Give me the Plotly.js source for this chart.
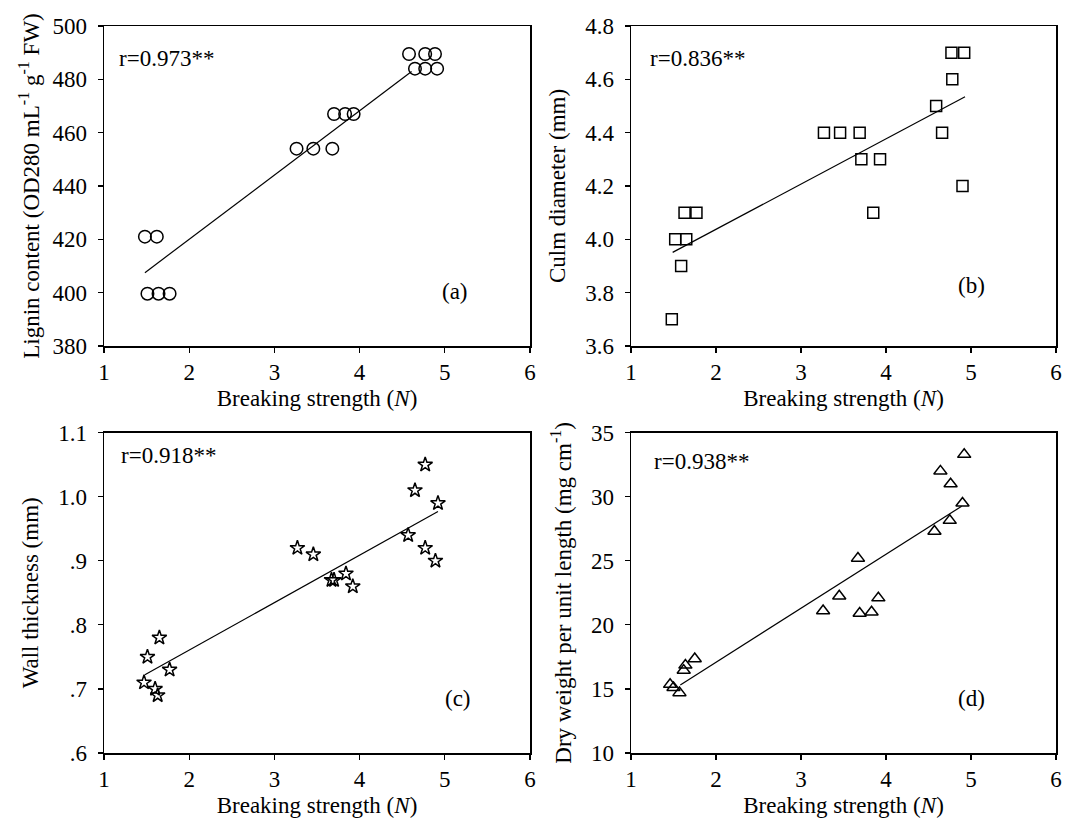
<!DOCTYPE html>
<html>
<head>
<meta charset="utf-8">
<script src="https://cdn.plot.ly/plotly-3.0.1.min.js"></script>
<style>html,body{margin:0;padding:0;background:#fff;}#chart{width:1065px;height:819px;}</style>
</head>
<body>
<div id="chart"></div>
<script>
// Panel (a): lignin content vs breaking strength
const strengthA = [4.58,4.77,4.885,4.65,4.77,4.91, 3.70,3.83,3.93, 3.26,3.457,3.68, 1.48,1.62, 1.51,1.64,1.77];
const lignin    = [489.5,489.5,489.5,484,484,484, 467,467,467, 454,454,454, 421,421, 399.6,399.6,399.6];
const fitAX = [1.48, 4.61];
const fitAY = [407.5, 482.9];

// Panel (b): culm diameter
const strengthB = [4.77,4.92,4.78,4.59,4.66,4.90, 3.27,3.46,3.69,3.71,3.93,3.85, 1.63,1.77,1.52,1.65,1.59,1.48];
const culmDiam  = [4.7,4.7,4.6,4.5,4.4,4.2, 4.4,4.4,4.4,4.3,4.3,4.1, 4.1,4.1,4.0,4.0,3.9,3.7];
const fitBX = [1.49, 4.93];
const fitBY = [3.951, 4.535];

// Panel (c): wall thickness
const strengthC = [4.77,4.65,4.92,4.57,4.77,4.89, 3.27,3.457,3.67,3.70,3.84,3.92, 1.65,1.51,1.77,1.47,1.60,1.63];
const wallThick = [1.05,1.01,0.99,0.94,0.92,0.90, 0.92,0.91,0.87,0.87,0.88,0.86, 0.78,0.75,0.73,0.71,0.70,0.69];
const fitCX = [1.48, 4.92];
const fitCY = [0.722, 0.977];

// Panel (d): dry weight per unit length
const strengthD = [4.92,4.64,4.76,4.90,4.75,4.57, 3.67,3.45,3.26,3.69,3.83,3.91, 1.75,1.64,1.62,1.46,1.50,1.57];
const dryWeight = [33.3,32.0,31.0,29.5,28.15,27.3, 25.2,22.25,21.1,20.9,21.0,22.1, 17.35,16.85,16.45,15.35,15.1,14.7];
const fitDX = [1.58, 4.89];
const fitDY = [15.31, 29.26];

const xTicks = [1,2,3,4,5,6];
const cTickVals = [0.6,0.7,0.8,0.9,1.0,1.1];
const cTickText = ['.6','.7','.8','.9','1.0','1.1'];
const rLabels = ['r=0.973**','r=0.836**','r=0.918**','r=0.938**'];
const panelLabels = ['(a)','(b)','(c)','(d)'];
const yTitles = [
  'Lignin content (OD280 mL<sup>-1</sup> g<sup>-1</sup> FW)',
  'Culm diameter (mm)',
  'Wall thickness (mm)',
  'Dry weight per unit length (mg cm<sup>-1</sup>)'
];
const xTitle = 'Breaking strength (<i>N</i>)';

const FONT = 'Liberation Serif, Times New Roman, serif';
const FS = 23;

function pts(x, y, sym, size, ax) {
  return {x: x, y: y, type: 'scatter', mode: 'markers', xaxis: 'x' + ax, yaxis: 'y' + ax,
    marker: {symbol: sym, size: size, color: '#000', line: {color: '#000', width: 1.5}},
    showlegend: false, hoverinfo: 'x+y'};
}
function fit(x, y, ax) {
  return {x: x, y: y, type: 'scatter', mode: 'lines', xaxis: 'x' + ax, yaxis: 'y' + ax,
    line: {color: '#000', width: 1.2}, showlegend: false, hoverinfo: 'skip'};
}

const data = [
  fit(fitAX, fitAY, ''), pts(strengthA, lignin, 'circle-open', 12.5, ''),
  fit(fitBX, fitBY, '2'), pts(strengthB, culmDiam, 'square-open', 11, '2'),
  fit(fitCX, fitCY, '3'), pts(strengthC, wallThick, 'star-open', 11, '3'),
  fit(fitDX, fitDY, '4'), pts(strengthD, dryWeight, 'triangle-up-open', 11.5, '4')
];

const L = [104/1065, 530/1065];
const R = [631/1065, 1056/1065];
const T = [1 - 346/819, 1 - 26/819];
const B = [1 - 753/819, 1 - 432.7/819];

function xax(dom, anchor) {
  return {domain: dom, anchor: anchor, range: [1, 6], tickvals: xTicks, ticks: 'outside', ticklen: 5,
    tickwidth: 1.2, tickcolor: '#000', showline: true, linecolor: '#000', linewidth: 1.5, mirror: true,
    showgrid: false, zeroline: false, tickfont: {family: FONT, size: FS, color: '#000'},
    title: {text: xTitle, font: {family: FONT, size: FS, color: '#000'}, standoff: 6}};
}
function yax(dom, anchor, range, extra, title, standoff) {
  return Object.assign({domain: dom, anchor: anchor, range: range, ticks: 'outside', ticklen: 5,
    tickwidth: 1.2, tickcolor: '#000', showline: true, linecolor: '#000', linewidth: 1.5, mirror: true,
    showgrid: false, zeroline: false, tickfont: {family: FONT, size: FS, color: '#000'},
    ticklabelstandoff: 6,
    title: {text: title, font: {family: FONT, size: FS, color: '#000'}, standoff: standoff}}, extra);
}

function ann(text, ax, x, y, xanchor) {
  return {text: text, xref: 'x' + ax + ' domain', yref: 'y' + ax + ' domain', x: x, y: y,
    xanchor: xanchor, yanchor: 'middle', showarrow: false, font: {family: FONT, size: FS, color: '#000'}};
}

const layout = {
  width: 1065, height: 819, paper_bgcolor: '#fff', plot_bgcolor: '#fff',
  margin: {l: 0, r: 0, t: 0, b: 0}, showlegend: false,
  font: {family: FONT, size: FS, color: '#000'},
  xaxis: xax(L, 'y'),
  yaxis: yax(T, 'x', [380, 500], {tickvals: [380,400,420,440,460,480,500]}, yTitles[0], 6),
  xaxis2: xax(R, 'y2'),
  yaxis2: yax(T, 'x2', [3.6, 4.8], {tickvals: [3.6,3.8,4.0,4.2,4.4,4.6,4.8], tickformat: '.1f'}, yTitles[1], 13),
  xaxis3: xax(L, 'y3'),
  yaxis3: yax(B, 'x3', [0.6, 1.1], {tickvals: cTickVals, ticktext: cTickText}, yTitles[2], 13),
  xaxis4: xax(R, 'y4'),
  yaxis4: yax(B, 'x4', [10, 35], {tickvals: [10,15,20,25,30,35]}, yTitles[3], 13),
  annotations: [
    ann(rLabels[0], '', 0.03, 0.9, 'left'),
    ann(rLabels[1], '2', 0.04, 0.9, 'left'),
    ann(rLabels[2], '3', 0.035, 0.93, 'left'),
    ann(rLabels[3], '4', 0.05, 0.91, 'left'),
    ann(panelLabels[0], '', 0.825, 0.17, 'center'),
    ann(panelLabels[1], '2', 0.8, 0.19, 'center'),
    ann(panelLabels[2], '3', 0.83, 0.17, 'center'),
    ann(panelLabels[3], '4', 0.8, 0.17, 'center')
  ]
};

Plotly.newPlot('chart', data, layout, {displayModeBar: false, staticPlot: true});
</script>
</body>
</html>
